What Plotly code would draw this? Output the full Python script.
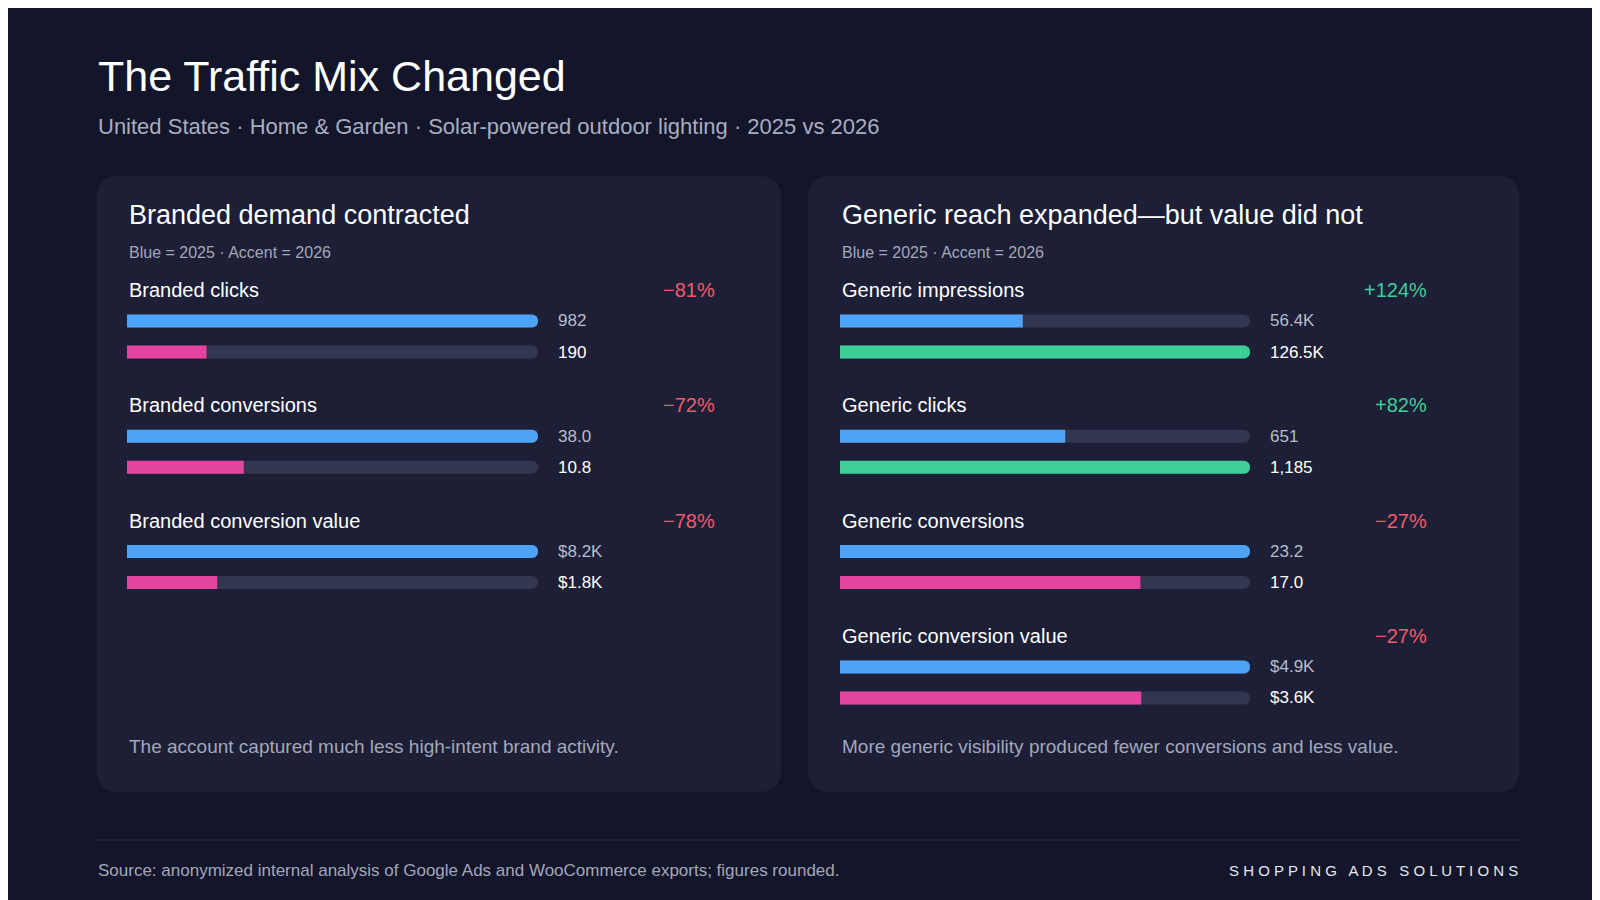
import plotly.graph_objects as go

W, H = 1600, 900

# data
left_metrics = ["Branded clicks", "Branded conversions", "Branded conversion value"]
left_2025 = [982, 38.0, 8200]
left_2026 = [190, 10.8, 1800]
left_labels_2025 = ["982", "38.0", "$8.2K"]
left_labels_2026 = ["190", "10.8", "$1.8K"]
left_change = ["−81%", "−72%", "−78%"]

right_metrics = ["Generic impressions", "Generic clicks", "Generic conversions", "Generic conversion value"]
right_2025 = [56400, 651, 23.2, 4900]
right_2026 = [126500, 1185, 17.0, 3600]
right_labels_2025 = ["56.4K", "651", "23.2", "$4.9K"]
right_labels_2026 = ["126.5K", "1,185", "17.0", "$3.6K"]
right_change = ["+124%", "+82%", "−27%", "−27%"]

BLUE = "#4fa3f7"
PINK = "#e2449f"
GREEN = "#3ecf97"
RED = "#f25a6c"
TRACK = "#33364f"
PANEL = "#1c1f36"
FONT = "Liberation Sans"

fig = go.Figure()


def px(x, y):
    return x / W, 1 - y / H


def text(x, y, s, size, color, anchor="left"):
    xx, yy = px(x, y)
    fig.add_annotation(x=xx, y=yy, xref="paper", yref="paper", text=s, showarrow=False,
                       xanchor=anchor, yanchor="middle",
                       font=dict(family=FONT, size=size, color=color))


def rounded(x0, y0, x1, y1, r, color):
    a0, b1 = px(x0, y0)
    a1, b0 = px(x1, y1)
    rx, ry = r / W, r / H
    path = (f"M {a0+rx},{b1} L {a1-rx},{b1} Q {a1},{b1} {a1},{b1-ry} "
            f"L {a1},{b0+ry} Q {a1},{b0} {a1-rx},{b0} L {a0+rx},{b0} "
            f"Q {a0},{b0} {a0},{b0+ry} L {a0},{b1-ry} Q {a0},{b1} {a0+rx},{b1} Z")
    fig.add_shape(type="path", path=path, xref="paper", yref="paper",
                  fillcolor=color, line_width=0, layer="below")


def panel(xaxis, x_left, x_bar_end, x_pct, metrics, v25, v26, l25, l26, change, title, note):
    text(x_left, 207, title, 27, "#ffffff")
    text(x_left, 245, "Blue = 2025 · Accent = 2026", 16, "#a3a7ba")
    text(x_left, 738, note, 19, "#a3a7ba")
    for i, m in enumerate(metrics):
        top = 282 + i * 115.3
        text(x_left, top, m, 20, "#ffffff")
        up = change[i].startswith("+")
        text(x_pct, top, change[i], 20, GREEN if up else RED, anchor="right")
        mx = max(v25[i], v26[i])
        accent = GREEN if up else PINK
        for j, (v, lab, col, lc) in enumerate([(v25[i], l25[i], BLUE, "#b8bccc"),
                                               (v26[i], l26[i], accent, "#ffffff")]):
            y = top + 31 + j * 31
            fig.add_trace(go.Bar(x=[1], y=[y], orientation="h", width=13, xaxis=xaxis,
                                 marker=dict(color=TRACK, cornerradius=7, line_width=0),
                                 hoverinfo="skip", showlegend=False))
            fig.add_trace(go.Bar(x=[v / mx], y=[y], orientation="h", width=13, xaxis=xaxis,
                                 marker=dict(color=col, cornerradius=7, line_width=0),
                                 showlegend=False))
            text(x_bar_end + 18, y, lab, 17, lc)


# background panels
rounded(89, 168, 773, 784, 22, PANEL)
rounded(800, 168, 1511, 784, 22, PANEL)

panel("x", 119, 530, 709, left_metrics, left_2025, left_2026, left_labels_2025, left_labels_2026,
      left_change, "Branded demand contracted", "The account captured much less high-intent brand activity.")
panel("x2", 832, 1242, 1421, right_metrics, right_2025, right_2026, right_labels_2025, right_labels_2026,
      right_change, "Generic reach expanded—but value did not",
      "More generic visibility produced fewer conversions and less value.")

text(88, 68, "The Traffic Mix Changed", 43, "#ffffff")
text(88, 118, "United States · Home & Garden · Solar-powered outdoor lighting · 2025 vs 2026", 22, "#a9adc0")
fig.add_shape(type="line", xref="paper", yref="paper", x0=88 / W, x1=1511 / W,
              y0=1 - 832 / H, y1=1 - 832 / H, line=dict(color="#2e3148", width=1))
text(88, 862, "Source: anonymized internal analysis of Google Ads and WooCommerce exports; figures rounded.",
     17, "#a3a7ba")
text(1512, 862, " ".join("SHOPPING") + "   " + " ".join("ADS") + "   " + " ".join("SOLUTIONS"),
     15, "#e6e8f0", anchor="right")

hidden = dict(visible=False, fixedrange=True)
fig.update_layout(
    width=W, height=H, margin=dict(l=0, r=0, t=0, b=0),
    paper_bgcolor="#13152a", plot_bgcolor="rgba(0,0,0,0)",
    barmode="overlay",
    xaxis=dict(domain=[119 / W, 530 / W], range=[0, 1], **hidden),
    xaxis2=dict(domain=[832 / W, 1242 / W], range=[0, 1], anchor="y", **hidden),
    yaxis=dict(domain=[0, 1], range=[H, 0], **hidden),
)
fig.write_html("out.html")
